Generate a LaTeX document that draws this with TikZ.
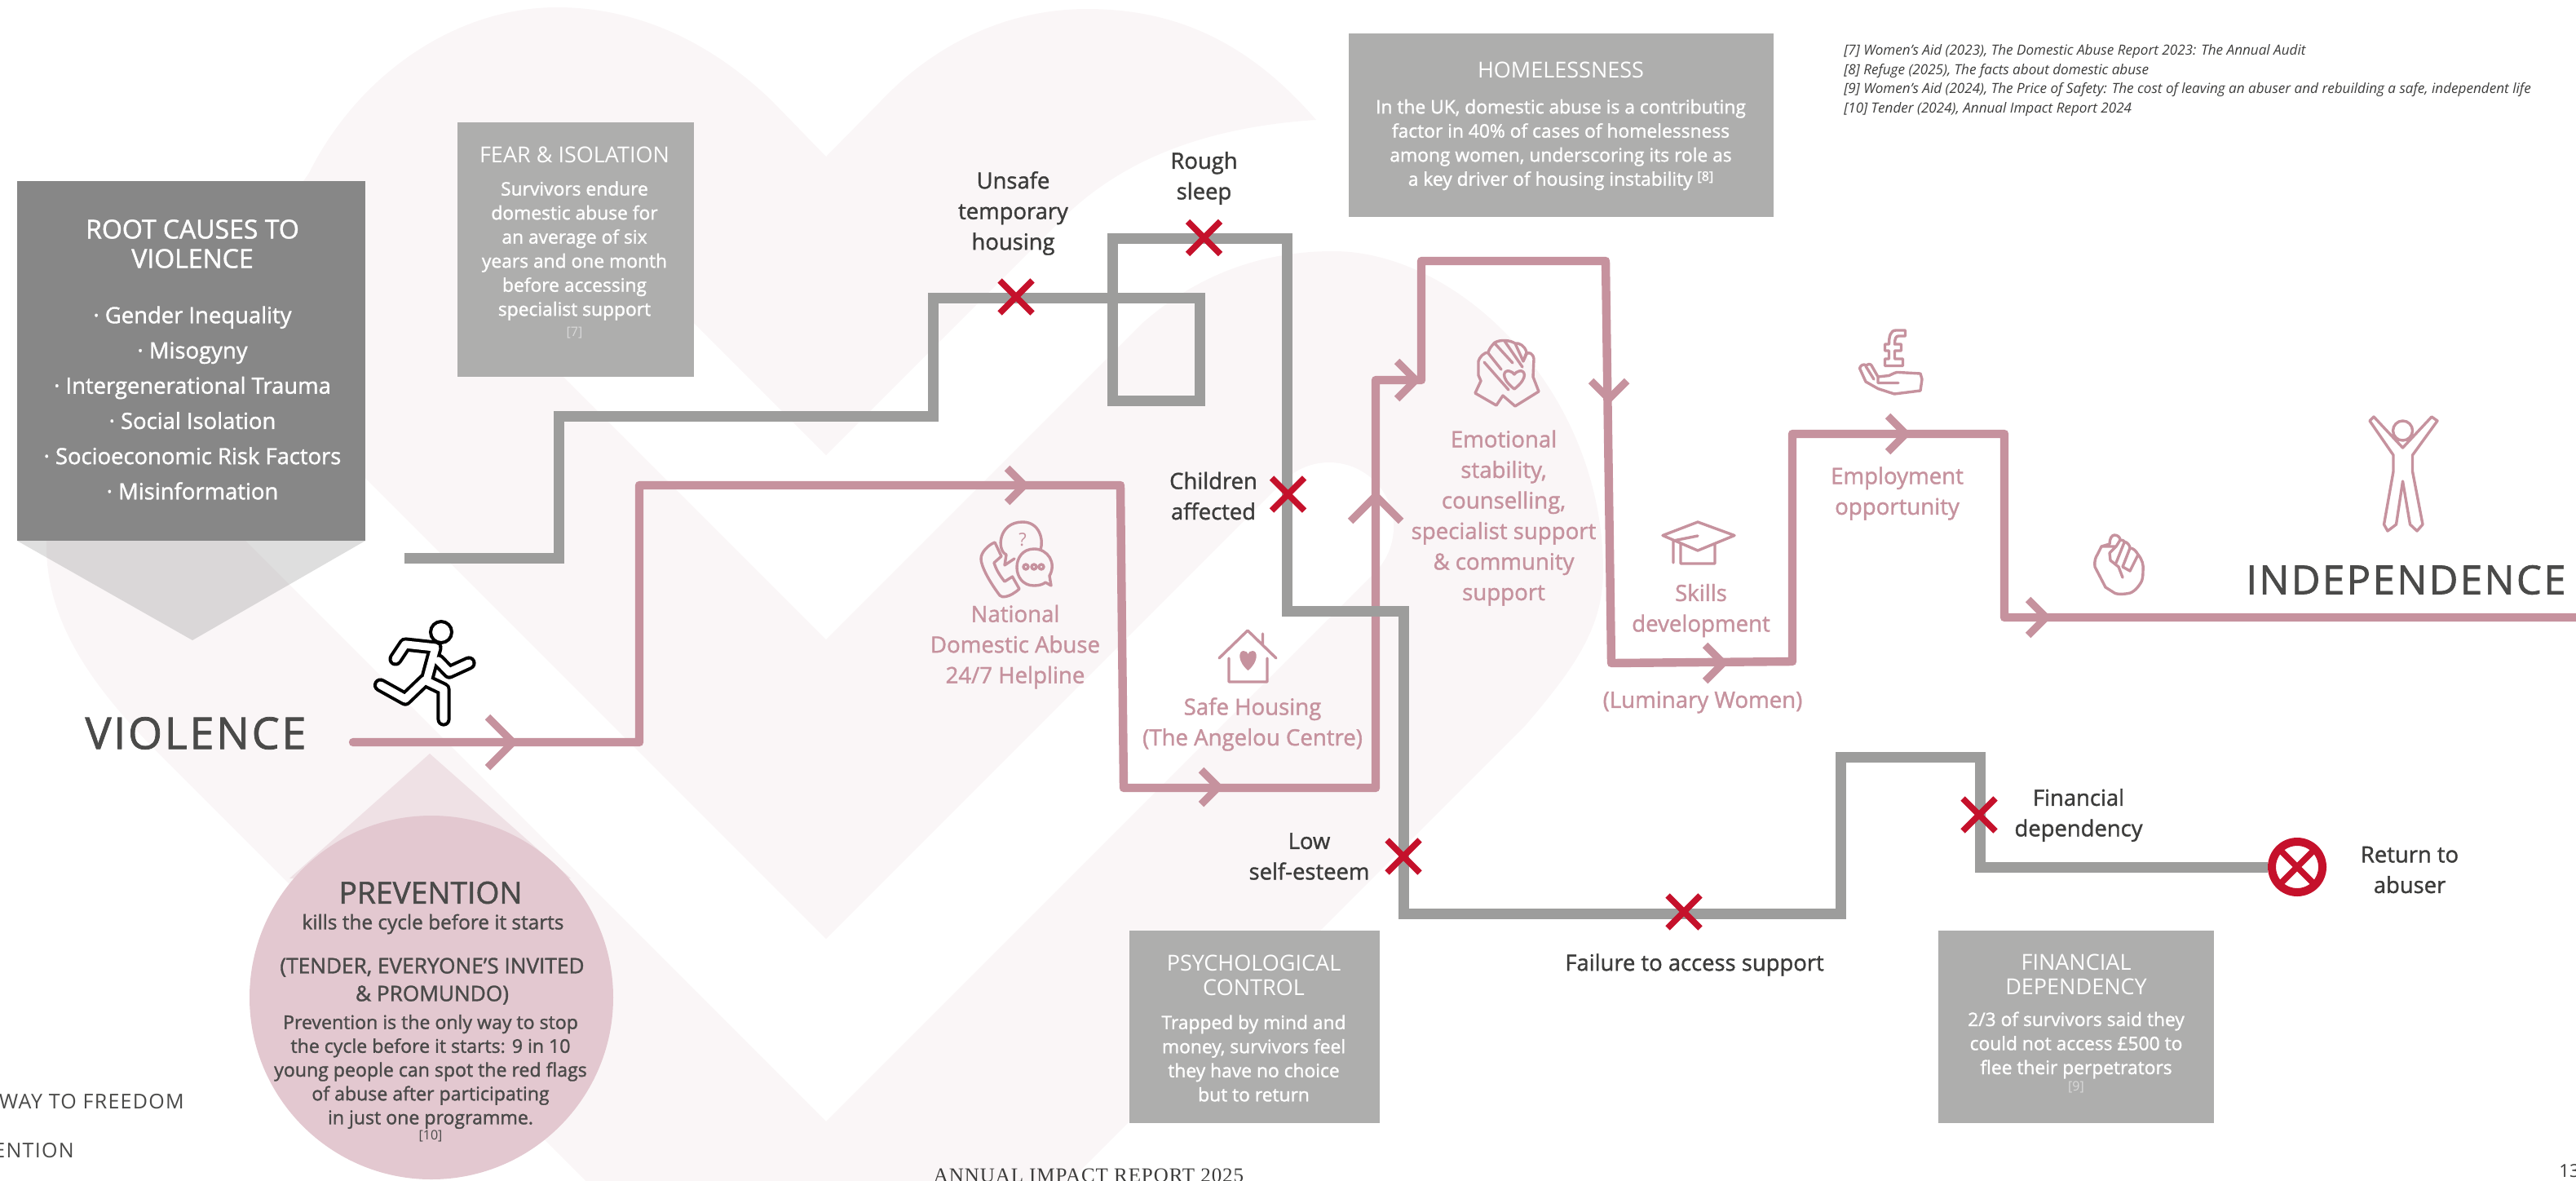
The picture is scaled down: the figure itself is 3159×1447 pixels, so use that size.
\documentclass[tikz,border=0pt]{standalone}
\usepackage{fontspec}
\setmainfont{Open Sans}
\newfontfamily\spacedfont[LetterSpace=5,FakeBold=1.4]{Open Sans}
\newfontfamily\sidefont[LetterSpace=5]{Open Sans}
\newfontfamily\footerfont[LetterSpace=3.7]{Liberation Serif}
\newfontfamily\medfont[FakeBold=1.4]{Open Sans}
\usetikzlibrary{shapes.misc}
\definecolor{rosepath}{HTML}{C6929E}
\definecolor{greypath}{HTML}{9D9D9C}
\definecolor{greybox}{HTML}{AEAEAD}
\definecolor{rootgrey}{HTML}{878787}
\definecolor{darktext}{HTML}{3C3C3B}
\definecolor{headtext}{HTML}{4A4A49}
\definecolor{washpink}{HTML}{FAF6F7}
\definecolor{drop}{HTML}{E3C8D0}
\definecolor{crossred}{HTML}{C5112B}

\begin{document}
\begin{tikzpicture}[
			x = 0.5pt, y = -0.5pt,
			textblock/.style = {inner sep = 0, align = center},
			boxtitle/.style = {
				textblock, text = white,
				font = \fontsize{13.5}{14.75}\selectfont,
			},
			boxbody/.style = {
				textblock, text = white,
				font = \medfont\fontsize{11.4}{14.75}\selectfont,
			},
			boxref/.style = {
				textblock, text = white!85!black,
				font = \fontsize{8}{10}\selectfont,
			},
			rootitem/.style = {
				textblock, text = white,
				font = \medfont\fontsize{13.7}{21.6}\selectfont,
			},
			pitfall/.style = {
				textblock, text = darktext,
				font = \medfont\fontsize{13.7}{18.75}\selectfont,
			},
			support/.style = {
				textblock, text = rosepath,
				font = \medfont\fontsize{13.8}{18.75}\selectfont,
			},
			bigword/.style = {
				inner sep = 0, text = headtext,
				font = \spacedfont\fontsize{27}{30}\selectfont,
			},
			sideword/.style = {
				inner sep = 0, text = headtext,
				font = \sidefont\fontsize{12.5}{14}\selectfont,
			},
			dropbody/.style = {
				textblock, text = headtext,
				font = \medfont\fontsize{11.55}{14.6}\selectfont,
			},
			source/.style = {
				inner sep = 0, align = left, text = darktext,
				font = \itshape\fontsize{8.55}{11.85}\selectfont,
			},
			greyline/.style = {line width = 6.5pt, draw = greypath, line join = miter},
			roseline/.style = {
				line width = 5.2pt, draw = rosepath,
				line join = round, line cap = round,
			},
			chevron/.pic = {
				\draw[line width = 4.6pt, draw = rosepath, line join = miter]
					(-1, -1) -- (0, 0) -- (-1, 1);
			},
			redcross/.style = {
				cross out, draw = crossred, line width = 3.8pt, outer sep = 0,
				minimum width = 20pt, minimum height = 20pt, inner sep = 0,
			},
			icon/.style = {
				draw = rosepath, line width = 1.7pt,
				line join = round, line cap = round,
			},
			runnerline/.style = {
				draw = black, double = white, double distance = 4.6pt,
				line width = 2pt, line join = round, line cap = round,
			},
		]

		\useasboundingbox (0, 0) rectangle (3159, 1447);
		\begin{scope}
			\clip (0, 0) rectangle (3159, 1447);

			\fill[washpink] (1015, 1745) -- (196, 925)
				.. controls (110, 840) and (57, 760) .. (57, 670)
				.. controls (57, 520) and (300, 330) .. (379, 212)
				.. controls (440, 90) and (560, 9) .. (683, 9)
				.. controls (780, 9) and (870, 50) .. (947, 124)
				-- (1013, 192) -- (1080, 124)
				.. controls (1150, 50) and (1240, 11) .. (1333, 11)
				.. controls (1440, 11) and (1530, 50) .. (1614, 147)
				.. controls (1490, 155) and (1380, 190) .. (1300, 271)
				-- (1013, 558) -- (740, 285) -- (627, 398) -- (1013, 784)
				-- (1400, 397)
				.. controls (1470, 335) and (1550, 308) .. (1635, 308)
				.. controls (1790, 308) and (1966, 480) .. (1966, 700)
				.. controls (1966, 770) and (1930, 820) .. (1871, 889)
				-- cycle;
			\draw[white, line width = 79pt, line cap = round, line join = miter]
				(280, 530) -- (1013, 1263) -- (1630, 646);

			\fill[rootgrey, opacity = 0.27] (21, 663) -- (448, 663) -- (236, 785) -- cycle;
			\fill[drop, opacity = 0.45] (527, 924) -- (700, 1077) -- (355, 1077) -- cycle;
			\fill[drop] (529, 1223) circle[radius = 223];

			\fill[rootgrey] (21, 222) rectangle (448, 663);
			\fill[greybox] (560.5, 150) rectangle (850.5, 462);
			\fill[greybox] (1654, 41) rectangle (2175, 266);
			\fill[greybox] (1385, 1141) rectangle (1691.5, 1376.5);
			\fill[greybox] (2377, 1141) rectangle (2715, 1376.5);

			\coordinate (violstart) at (433, 910);
			\coordinate (independ) at (3175, 757);
			\draw[roseline] (violstart) -- (784, 910) -- (784, 595) -- (1374, 595)
				-- (1378, 966) -- (1687, 966) -- (1687, 466) -- (1743, 466)
				-- (1743, 320) -- (1969, 320) -- (1976, 813) -- (2198, 811)
				-- (2198, 532) -- (2458, 532) -- (2458, 757) -- (independ);

			\pic[scale = 31] at (629, 910) {chevron};
			\pic[scale = 21] at (1256, 595) {chevron};
			\pic[scale = 21] at (1494, 965) {chevron};
			\pic[scale = 31, rotate = 90] at (1687, 608) {chevron};
			\pic[scale = 23] at (1736, 466) {chevron};
			\pic[scale = 22, rotate = -90] at (1973, 489) {chevron};
			\pic[scale = 22] at (2113, 813) {chevron};
			\pic[scale = 22] at (2337, 532) {chevron};
			\pic[scale = 22] at (2509, 757) {chevron};

			\node[
				circle, draw = crossred, fill = white, line width = 5pt,
				minimum size = 31pt, inner sep = 0,
			] (returnmark) at (2817, 1063) {};
			\coordinate (greystart) at (496, 684);
			\draw[greyline] (greystart) -| (685, 510) -| (1144.5, 365.5)
				-| (1471, 491) -| (1364, 292) -| (1578.6, 749) -| (1721, 1120)
				-| (2257.5, 928) -| (2428, 1063) -- (returnmark.west);
			\node[redcross, minimum width = 21pt, minimum height = 21pt]
				(returncross) at (returnmark) {};

			\node[redcross] (xunsafe) at (1246, 364) {};
			\node[redcross] (xrough) at (1476.5, 291.5) {};
			\node[redcross] (xchildren) at (1579.5, 606) {};
			\node[redcross] (xesteem) at (1721, 1050) {};
			\node[redcross] (xfailure) at (2065, 1118) {};
			\node[redcross] (xfinance) at (2427, 999) {};

			\node[boxtitle, font = \medfont\fontsize{16}{18}\selectfont] (roottitle) at (236, 299)
				{ROOT CAUSES TO\\VIOLENCE};
			\node[rootitem] (rootlist) at (236, 494) {
				· Gender Inequality\\· Misogyny\\· Intergenerational Trauma\\
				· Social Isolation\\· Socioeconomic Risk Factors\\· Misinformation};

			\node[boxtitle] (feartitle) at (704.5, 190) {FEAR \& ISOLATION};
			\node[boxbody] (fearbody) at (704.5, 307.5) {
				Survivors endure\\domestic abuse for\\an average of six\\
				years and one month\\before accessing\\specialist support};
			\node[boxref] (fearref) at (704.5, 408) {{[7]}};

			\node[boxtitle] (hometitle) at (1914, 86) {HOMELESSNESS};
			\node[boxbody] (homebody) at (1914, 177.5) {
				In the UK, domestic abuse is a contributing\\
				factor in 40\% of cases of homelessness\\
				among women, underscoring its role as\\
				a key driver of housing instability
				{\fontsize{8}{8}\selectfont\raisebox{0.7ex}{[8]}}};

			\node[boxtitle] (psychtitle) at (1537.5, 1196) {PSYCHOLOGICAL\\CONTROL};
			\node[boxbody] (psychbody) at (1537.5, 1297.5) {
				Trapped by mind and\\money, survivors feel\\they have no choice\\but to return};

			\node[boxtitle] (fintitle) at (2546, 1195) {FINANCIAL\\DEPENDENCY};
			\node[boxbody] (finbody) at (2546, 1281.5) {
				2/3 of survivors said they\\could not access £500 to\\flee their perpetrators};
			\node[boxref] (finref) at (2546, 1333) {{[9]}};

			\node[pitfall] (unsafe) at (1242.5, 261.5) {Unsafe\\temporary\\housing};
			\node[pitfall] (rough) at (1476.5, 218.5) {Rough\\sleep};
			\node[pitfall] (children) at (1488, 608) {Children\\affected};
			\node[pitfall] (esteem) at (1605.5, 1050) {Low\\self-esteem};
			\node[pitfall] (failure) at (2078, 1183) {Failure to access support};
			\node[pitfall] (finance) at (2549, 999.5) {Financial\\dependency};
			\node[pitfall] (returnto) at (2955, 1066.5) {Return to\\abuser};

			\node[support] (helpline) at (1245, 793) {National\\Domestic Abuse\\24/7 Helpline};
			\node[support] (housing) at (1536, 888) {Safe Housing\\(The Angelou Centre)};
			\node[support] (stability) at (1844, 635) {
				Emotional\\stability,\\counselling,\\specialist support\\\& community\\support};
			\node[support] (skills) at (2086, 748.5) {Skills\\development};
			\node[support] (luminary) at (2088, 861) {(Luminary Women)};
			\node[support] (employment) at (2326.5, 605) {Employment\\opportunity};

			\node[bigword] (violence) at (240, 899) {VIOLENCE};
			\node[bigword, anchor = east, font = \spacedfont\fontsize{24.5}{30}\selectfont]
				(independence) at (3147, 711) {INDEPENDENCE};

			\node[textblock, text = headtext, font = \medfont\fontsize{18.6}{20}\selectfont]
				(preventtitle) at (528, 1094.5) {PREVENTION};
			\node[dropbody, font = \medfont\fontsize{12.2}{14.6}\selectfont]
				(preventkills) at (531, 1133) {kills the cycle before it starts};
			\node[textblock, text = headtext, font = \medfont\fontsize{13.1}{17}\selectfont]
				(preventwho) at (530, 1203) {(TENDER, EVERYONE’S INVITED\\\& PROMUNDO)};
			\node[dropbody] (preventbody) at (528, 1314) {
				Prevention is the only way to stop\\the cycle before it starts: 9 in 10\\
				young people can spot the red flags\\of abuse after participating\\in just one programme.};
			\node[boxref, text = headtext] (preventref) at (528, 1393) {{[10]}};

			\node[sideword, anchor = east] (waytofreedom) at (226, 1351) {WAY TO FREEDOM};
			\node[sideword, anchor = east] (prevention) at (91, 1411) {ENTION};

			\node[source, anchor = north west] (sources) at (2261, 54) {
				{[7]} Women’s Aid (2023), The Domestic Abuse Report 2023: The Annual Audit\\
				{[8]} Refuge (2025), The facts about domestic abuse\\
				{[9]} Women’s Aid (2024), The Price of Safety: The cost of leaving an abuser and rebuilding a safe, independent life\\
				{[10]} Tender (2024), Annual Impact Report 2024};

			\node[anchor = base, inner sep = 0, text = darktext, font = \footerfont\fontsize{12.5}{14}\selectfont]
				(footer) at (1335, 1449) {ANNUAL IMPACT REPORT 2025};
			\node[anchor = west, inner sep = 0, text = darktext, font = \fontsize{11}{13}\selectfont]
				(pagenumber) at (3138, 1436) {13};

			\node[circle, draw = black, line width = 2pt, minimum size = 13pt, inner sep = 0]
				(runnerhead) at (541, 775) {};
			\draw[runnerline] (485, 808) -- (497, 790) -- (534, 794) -- (524, 831)
				(537.5, 810) -- (551, 824) -- (575, 813)
				(544, 882) -- (544, 845) -- (521, 834) -- (497, 857) -- (466.5, 840);

			\draw[icon] (1254, 640) .. controls (1224, 640) and (1222, 675) .. (1234, 680)
				-- (1232, 693) -- (1244, 685)
				(1254, 640) .. controls (1275, 640) and (1280, 662) .. (1276, 674);
			\node[inner sep = 0, text = rosepath, font = \fontsize{11}{12}\selectfont]
				(phonequery) at (1254, 662) {?};
			\draw[icon] (1268, 673) .. controls (1240, 673) and (1240, 718) .. (1268, 718)
				.. controls (1275, 718) and (1280, 716) .. (1282, 714) -- (1289, 718)
				-- (1287, 706) .. controls (1296, 690) and (1285, 673) .. (1268, 673)
				(1258, 695) circle[radius = 3] (1268, 695) circle[radius = 3]
				(1277, 695) circle[radius = 3];
			\draw[icon] (1220, 665) -- (1228, 682) -- (1219, 690)
				.. controls (1222, 700) and (1228, 708) .. (1232, 713) -- (1241.5, 707)
				-- (1250, 722) .. controls (1238, 733) and (1228, 733) .. (1226, 730)
				.. controls (1211, 710) and (1203, 693) .. (1203, 685)
				.. controls (1203, 677) and (1212, 668) .. (1220, 665);

			\draw[icon] (1495, 807) -- (1530, 773) -- (1565, 807) (1548.5, 777) -- (1548.5, 790)
				(1507, 807) -- (1507, 836) -- (1554, 836) -- (1554, 807);
			\fill[rosepath] (1530.5, 822) .. controls (1518, 812) and (1518, 798) .. (1525, 798)
				.. controls (1528, 798) and (1530, 800) .. (1530.5, 802)
				.. controls (1531, 800) and (1533, 798) .. (1536, 798)
				.. controls (1543, 798) and (1543, 812) .. (1530.5, 822);

			\draw[icon] (1809, 482) -- (1835, 497) -- (1843, 485) -- (1858, 498) -- (1887, 480)
				-- (1880, 462) -- (1881, 440) .. controls (1880, 433) and (1874, 431) .. (1872, 434)
				-- (1868, 443) -- (1872, 432) .. controls (1870, 424) and (1863, 420) .. (1858, 421)
				.. controls (1852, 417) and (1840, 416) .. (1833, 420)
				.. controls (1829, 424) and (1826, 428) .. (1825, 432)
				.. controls (1820, 432) and (1814, 438) .. (1813, 443)
				-- (1813, 460) -- (1816, 467) -- cycle
				(1820, 444) -- (1850, 478) (1825, 433) -- (1841, 453)
				(1833, 421) -- (1855, 445) (1845, 418) -- (1867, 450)
				(1858, 421) -- (1868, 443)
				(1857, 477) .. controls (1838, 462) and (1845, 453) .. (1851, 455)
				.. controls (1854, 456) and (1856, 457) .. (1857, 459)
				.. controls (1858, 457) and (1860, 456) .. (1863, 455)
				.. controls (1869, 453) and (1876, 462) .. (1857, 477);

			\draw[icon] (2039, 656.5) -- (2082, 640) -- (2127, 656.5) -- (2082, 675) -- cycle
				(2061, 666) -- (2061, 691) -- (2103, 691) -- (2103, 668)
				(2082, 657) -- (2052, 663) -- (2052, 690);

			\draw[icon] (2336.5, 405) -- (2325, 405) .. controls (2318, 405) and (2316.5, 413) .. (2316.5, 422)
				-- (2311.5, 422) -- (2311.5, 430) -- (2316.5, 430) -- (2316.5, 440) -- (2311.5, 440)
				-- (2311.5, 448.5) -- (2333.5, 448.5) -- (2333.5, 440) -- (2323.5, 440) -- (2323.5, 430)
				-- (2331.5, 430) -- (2331.5, 422) -- (2323.5, 422)
				.. controls (2323.5, 415) and (2325, 412) .. (2328, 412) -- (2336.5, 412) -- cycle;
			\draw[icon] (2280.5, 451.5) .. controls (2282, 447) and (2286, 446) .. (2288, 448)
				.. controls (2290, 446) and (2294, 446) .. (2295, 448) -- (2303, 462)
				-- (2316.5, 460.5) .. controls (2322, 458) and (2325, 456) .. (2328, 456.5)
				-- (2355, 458) -- (2357, 465) -- (2355, 479) -- (2323, 483) -- (2303, 476.5)
				-- (2288, 468) -- cycle
				(2288, 449) -- (2298, 465) (2303, 463) -- (2303, 469.5) -- (2328, 469.5);

			\draw[icon] (2577, 670) -- (2587, 667) .. controls (2587, 660) and (2590, 656) .. (2593, 656)
				.. controls (2597, 656) and (2600, 659) .. (2600, 662)
				.. controls (2603, 662) and (2605, 663) .. (2605, 664)
				.. controls (2609, 665) and (2612, 669) .. (2612, 672)
				.. controls (2616, 672) and (2619, 675) .. (2622, 680)
				.. controls (2627, 686) and (2629, 693) .. (2628, 700)
				.. controls (2628, 708) and (2627, 712) .. (2625, 715)
				.. controls (2620, 723) and (2614, 728) .. (2607, 728)
				.. controls (2600, 729) and (2594, 728) .. (2593, 727)
				-- (2582, 720) -- (2569, 695) .. controls (2568, 688) and (2570, 683) .. (2572, 680)
				-- cycle
				(2577, 670) -- (2595, 670) -- (2587, 678) -- (2588, 687) -- (2598, 695) -- (2603, 708)
				(2595, 670) -- (2600, 662) (2605, 665) -- (2595, 690)
				(2612, 672) -- (2603, 695) -- (2612, 700) -- (2622, 680);

			\draw[icon] (2906, 516) -- (2935, 558) -- (2935, 578) -- (2923.5, 643)
				-- (2928, 651) -- (2938.5, 643) -- (2946.5, 590) -- (2955.5, 643)
				-- (2964, 651) -- (2971, 643) -- (2958.5, 578) -- (2958.5, 558)
				-- (2989, 516) -- (2982, 511) -- (2946.5, 549) -- (2911, 511) -- cycle
				(2946.5, 528) circle[radius = 12];
		\end{scope}
	\end{tikzpicture}
\end{document}
